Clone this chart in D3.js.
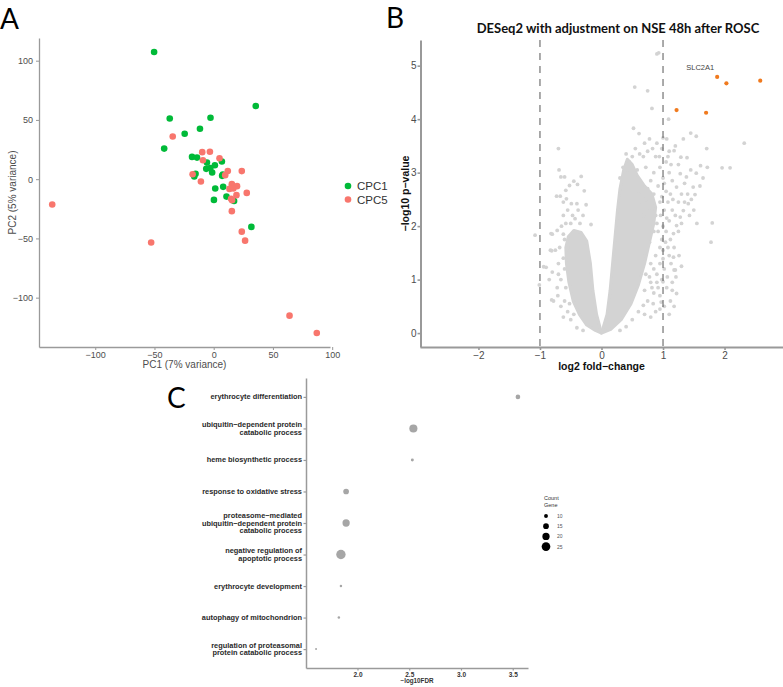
<!DOCTYPE html>
<html>
<head>
<meta charset="utf-8">
<script src="https://cdn.jsdelivr.net/npm/d3@7"></script>
<style>
  body { margin: 0; background: #fff; }
  svg { display: block; }
</style>
</head>
<body>
<svg id="fig" width="783" height="687"></svg>
<script>
// ---- panel A : PCA ----
const cpc1 = [
  [-50.3,107.3],[35.5,61.7],[-37.1,51.2],[-2.7,51.8],[-11.6,42.5],[-24.5,38.3],[-41.8,25.8],
  [-18.3,18.8],[-14.1,18.2],[-5.7,14.0],[1.0,11.8],[6.9,14.9],[-6.3,8.7],[-2.9,9.3],[-1.3,5.6],
  [-15.3,4.5],[-16.4,2.2],[7.7,3.9],[7.1,2.8],[1.3,-7.9],[8.0,-6.5],[10.8,-14.7],[0.2,-17.5],
  [17.2,-18.4],[31.8,-40.3]
];
const cpc5 = [
  [-136.3,-21.4],[-52.8,-53.5],[-34.6,36.0],[-9.7,22.8],[-3.2,23.1],[-9.1,16.0],[4.9,17.7],
  [-17.8,4.2],[-10.8,-2.0],[11.9,6.8],[9.7,3.4],[23.7,6.8],[15.3,-4.2],[19.7,-5.9],[13.3,-8.2],
  [16.6,-7.9],[27.9,-11.6],[19.2,-13.5],[14.7,-16.6],[15.5,-17.7],[15.3,-27.0],[23.7,-44.3],
  [26.5,-51.9],[87.0,-129.8],[64.0,-115.2]
];
const pcaTicks = [-100, -50, 0, 50, 100];
const groups = ["CPC1", "CPC5"];
const groupColors = ["#00BA38", "#F8766D"];

// ---- panel B : volcano ----
const volcanoTitle = "DESeq2 with adjustment on NSE 48h after ROSC";
const fcTicks = [-2, -1, 0, 1, 2];
const pTicks = [0, 1, 2, 3, 4, 5];
const fcCutoff = [-1, 1];
// dense cores of the V (outline)
const leftCore = [[0,0],[-0.1,0.05],[-0.24,0.15],[-0.36,0.35],[-0.46,0.6],[-0.53,0.95],[-0.57,1.3],
  [-0.58,1.6],[-0.54,1.8],[-0.45,1.92],[-0.33,1.88],[-0.24,1.72],[-0.18,1.3],[-0.14,0.8],[-0.08,0.35]];
const rightCore = [[0,0],[0.09,0.35],[0.14,0.8],[0.18,1.3],[0.22,1.8],[0.26,2.3],[0.3,2.7],[0.36,3.05],
  [0.42,3.25],[0.5,3.15],[0.58,2.95],[0.7,2.75],[0.82,2.6],[0.88,2.35],[0.85,2.05],[0.78,1.7],
  [0.7,1.3],[0.6,0.9],[0.48,0.55],[0.32,0.25],[0.15,0.07]];
const genesGray = [
  [0.90,5.22],[0.93,5.24],[0.54,4.60],[0.75,4.53],[0.82,4.20],[1.09,4.0],[0.52,3.83],[0.61,3.73],
  [0.78,3.63],[1.06,3.63],[1.18,3.41],[1.33,3.63],[1.45,3.74],[1.54,3.68],[1.71,3.45],[2.32,3.55],
  [1.96,3.09],[2.09,3.09],[1.80,2.06],[1.78,1.70],[1.54,2.99],[1.61,3.13],[1.29,3.29],[1.39,3.28],
  [1.49,2.73],[1.52,2.59],[1.38,2.92],[1.28,2.98],[1.22,2.73],[1.41,2.42],[1.33,2.29],[1.28,2.17],
  [1.22,2.01],[1.17,1.86],[1.18,1.18],[1.21,1.05],[1.22,0.74],[1.0,1.39],[1.17,1.42],[1.20,1.18],
  [1.0,0.96],[0.97,0.58],[0.84,0.55],[0.68,0.52],
  [1.05,3.2],[1.1,3.0],[1.0,2.9],[0.95,3.1],[0.88,3.3],[0.85,3.0],[0.8,2.85],[0.72,3.1],[0.68,3.3],
  [0.62,3.35],[0.55,3.45],[0.5,3.3],[0.45,3.2],[1.12,2.6],[1.08,2.45],[1.02,2.3],[1.15,2.3],[1.1,2.1],
  [1.05,1.9],[1.0,2.0],[0.98,1.75],[1.08,1.6],[1.12,1.75],[1.0,1.55],[0.95,1.3],[1.02,1.2],[0.9,1.1],
  [0.92,0.85],[0.85,0.75],[0.8,0.95],[0.75,0.6],[0.7,0.8],[1.3,2.6],[1.25,2.45],[1.35,2.8],[1.45,3.05],
  [1.25,3.15],[1.15,2.85],[1.2,3.5],[1.1,3.4],[0.98,3.45],[0.9,3.55],[1.13,1.3],[1.06,0.85],[1.15,0.95],
  [1.12,0.6],[0.95,0.45],
  [0.3,2.9],[0.35,3.1],[0.4,3.35],[0.42,3.0],[0.5,2.9],[0.58,3.05],[0.65,2.75],[0.75,2.7],[0.6,2.6],
  [0.85,2.6],[0.92,2.75],[0.7,1.5],[0.78,1.7],[0.85,1.9],[0.8,1.3],[0.72,1.1],[0.6,0.4],[0.5,0.25],
  [0.4,0.12],[0.3,0.05],[0.88,2.2],[0.95,2.45],
  [0.62,2.4],[0.68,2.2],[0.72,2.5],[0.78,2.35],[0.9,2.05],[0.92,1.9],[0.95,1.6],[0.88,1.45],[0.85,1.2],
  [0.9,0.95],[0.82,0.85],[0.78,1.05],[1.05,2.65],[1.02,2.8],[0.98,2.55],[0.96,2.2],[1.06,2.15],[1.04,1.7],
  [1.1,1.45],[1.07,1.05],[0.98,1.0],[1.16,2.5],[1.2,2.2],[1.18,1.6],[1.25,1.9],[1.3,2.05],[1.26,1.45],
  [1.3,1.25],[1.35,2.45],[1.4,2.6],[1.46,2.5],[1.43,2.2],[1.5,2.3],[1.55,2.05],[1.6,2.75],[1.65,2.9],
  [1.72,3.1],[1.13,3.15],[1.08,3.3],[0.94,3.3],[0.83,3.45],[0.75,3.4],[0.7,3.55],[1.0,3.65],[0.95,0.7],
  [1.02,0.5],[0.88,0.4],[0.8,0.3],[0.7,0.35],[1.1,0.35],[1.18,0.5],[1.15,0.8],
  [-0.70,3.45],[-0.69,3.05],[-0.66,2.92],[-0.60,2.92],[-0.67,2.56],[-0.73,2.56],[-0.58,2.67],
  [-0.52,2.76],[-0.45,2.84],[-0.33,2.93],[-0.39,2.78],[-0.57,2.51],[-0.49,2.42],[-0.40,2.42],
  [-0.28,2.66],[-0.17,2.03],[-0.43,2.14],[-0.35,2.05],[-1.08,1.83],[-0.90,1.23],[-0.82,1.86],
  [-0.72,1.92],[-0.80,1.85],[-0.81,1.54],[-0.83,1.55],[-0.94,1.24],[-1.01,0.90],[-0.80,1.14],
  [-0.81,0.62],[-0.71,0.70],[-0.62,2.2],[-0.55,2.3],[-0.65,2.0],[-0.6,1.75],[-0.68,1.6],[-0.62,1.4],
  [-0.7,1.3],[-0.66,1.0],[-0.72,0.85],[-0.6,0.6],[-0.55,0.4],[-0.62,0.3],[-0.5,0.25],[-0.4,0.1],[-0.3,0.05],
  [-0.62,1.85],[-0.58,2.05],[-0.5,2.05],[-0.47,2.2],[-0.55,1.6],[-0.6,1.2],[-0.58,0.85],[-0.52,0.55],
  [-0.45,0.35],[-0.75,1.55],[-0.7,1.1],[-0.78,0.6],[-0.85,1.0],[-0.66,0.5],[-0.38,2.3],[-0.3,2.2],
  [-0.25,2.4],[-0.62,2.45]
];
const genesSig = [[1.88,4.79],[2.03,4.67],[2.58,4.72],[1.22,4.17],[1.70,4.12]];
const sigLabel = {name: "SLC2A1", fc: 1.88, p: 4.79};

// ---- panel C : GO enrichment ----
const goTerms = [
  "erythrocyte differentiation",
  "ubiquitin\u2212dependent protein\ncatabolic process",
  "heme biosynthetic process",
  "response to oxidative stress",
  "proteasome\u2212mediated\nubiquitin\u2212dependent protein\ncatabolic process",
  "negative regulation of\napoptotic process",
  "erythrocyte development",
  "autophagy of mitochondrion",
  "regulation of proteasomal\nprotein catabolic process"
];
const goFDR = [3.55, 2.54, 2.53, 1.89, 1.89, 1.84, 1.84, 1.82, 1.60];
const goCount = [12, 23, 8, 15, 20, 28, 7, 7, 6];
const countBreaks = [10, 15, 20, 25];
const fdrTicks = [2.0, 2.5, 3.0, 3.5];

const ARIAL = "Liberation Sans, Arial, sans-serif";
const HUMAN = "Lato, 'Open Sans', sans-serif";

const svg = d3.select("#fig");
svg.append("rect").attr("width", 783).attr("height", 687).attr("fill", "#fff");

function panelLetter(t, x, y) {
  svg.append("text").attr("x", x).attr("y", y).text(t)
    .attr("font-family", HUMAN).attr("font-size", 28).attr("fill", "#000");
}
function styleAxis(g, col, w, fs, fcol) {
  g.attr("font-family", ARIAL);
  g.select(".domain").attr("stroke", col).attr("stroke-width", w);
  g.selectAll(".tick line").attr("stroke", col).attr("stroke-width", w * 0.8);
  g.selectAll(".tick text").attr("font-size", fs).attr("fill", fcol).attr("font-family", ARIAL);
}
function pad(ext, f) { const d = (ext[1] - ext[0]) * f; return [ext[0] - d, ext[1] + d]; }
function txt(g, s, x, y, size, opts = {}) {
  return g.append("text").attr("x", x).attr("y", y).attr("font-size", size)
    .attr("font-family", opts.family || ARIAL).attr("font-weight", opts.weight || "normal")
    .attr("text-anchor", opts.anchor || "start").attr("fill", opts.fill || "#333").text(s);
}

// ================= A =================
panelLetter("A", 0, 29);
const allPca = cpc1.concat(cpc5);
const xA = d3.scaleLinear().domain(pad(d3.extent(allPca, d => d[0]), 0.05)).range([39, 330]);
const yA = d3.scaleLinear().domain(pad(d3.extent(allPca, d => d[1]), 0.05)).range([347, 38]);
const gA = svg.append("g");
const axA_y = gA.append("g").attr("transform", "translate(39,0)")
  .call(d3.axisLeft(yA).tickValues(pcaTicks).tickSize(3).tickSizeOuter(0).tickPadding(3));
styleAxis(axA_y, "#9a9a9a", 1.3, 9, "#4d4d4d");
const axA_x = gA.append("g").attr("transform", "translate(0,347)")
  .call(d3.axisBottom(xA).tickValues(pcaTicks).tickSize(3).tickSizeOuter(0).tickPadding(2));
styleAxis(axA_x, "#9a9a9a", 1.3, 9, "#4d4d4d");
txt(gA, "PC1 (7% variance)", d3.mean(xA.range()), 368, 10, {anchor: "middle", fill: "#4d4d4d"});
txt(gA, "PC2 (5% variance)", 0, 0, 10, {anchor: "middle", fill: "#4d4d4d"})
  .attr("transform", `translate(16,${d3.mean(yA.range())}) rotate(-90)`);
[cpc1, cpc5].forEach((set, i) => {
  gA.append("g").selectAll("circle").data(set).join("circle")
    .attr("cx", d => xA(d[0])).attr("cy", d => yA(d[1])).attr("r", 3.3)
    .attr("fill", groupColors[i]);
});
const legA = gA.append("g").attr("transform", "translate(348,186)");
groups.forEach((g, i) => {
  legA.append("circle").attr("cx", 0).attr("cy", i * 13.5).attr("r", 3.3).attr("fill", groupColors[i]);
  txt(legA, g, 9, i * 13.5 + 4, 11.5, {fill: "#333"});
});

// ================= B =================
panelLetter("B", 386, 28);
const xB = d3.scaleLinear().domain([-2.95, 2.95]).range([420, 783]);
const yB = d3.scaleLinear().domain([-0.26, 5.48]).range([347, 40]);
const gB = svg.append("g");
txt(gB, volcanoTitle, 618, 33, 13, {family: HUMAN, weight: "bold", anchor: "middle", fill: "#111"});

const coreLine = d3.line().x(d => xB(d[0])).y(d => yB(d[1])).curve(d3.curveLinearClosed);
[leftCore, rightCore].forEach(c => {
  gB.append("path").attr("d", coreLine(c)).attr("fill", "#d3d3d3")
    .attr("stroke", "#d3d3d3").attr("stroke-width", 3).attr("stroke-linejoin", "round");
});
gB.append("g").selectAll("circle").data(genesGray).join("circle")
  .attr("cx", d => xB(d[0])).attr("cy", d => yB(d[1])).attr("r", 1.9).attr("fill", "#d3d3d3");
gB.append("g").selectAll("line").data(fcCutoff).join("line")
  .attr("x1", d => xB(d)).attr("x2", d => xB(d)).attr("y1", 40).attr("y2", 347)
  .attr("stroke", "#555").attr("stroke-width", 1).attr("stroke-dasharray", "7,6");
gB.append("g").selectAll("circle").data(genesSig).join("circle")
  .attr("cx", d => xB(d[0])).attr("cy", d => yB(d[1])).attr("r", 2.1).attr("fill", "#F07A1E");
txt(gB, sigLabel.name, xB(sigLabel.fc) - 3, yB(sigLabel.p) - 7, 7.5, {anchor: "end", fill: "#444"});

const axB_y = gB.append("g").attr("transform", "translate(420.5,0)")
  .call(d3.axisLeft(yB).tickValues(pTicks).tickSize(3).tickSizeOuter(0).tickPadding(1).tickFormat(d3.format("d")));
styleAxis(axB_y, "#999", 2, 10, "#4d4d4d");
const axB_x = gB.append("g").attr("transform", "translate(0,347)")
  .call(d3.axisBottom(xB).tickValues(fcTicks).tickSize(3).tickSizeOuter(0).tickPadding(2).tickFormat(d3.format("d")));
styleAxis(axB_x, "#999", 2, 10, "#4d4d4d");
txt(gB, "log2 fold\u2212change", xB(0), 370, 10.5, {anchor: "middle", weight: "bold", fill: "#111"});
txt(gB, "\u2212log10 p\u2212value", 0, 0, 10.5, {anchor: "middle", weight: "bold", fill: "#111"})
  .attr("transform", `translate(409,${d3.mean(yB.range())}) rotate(-90)`);

// ================= C =================
panelLetter("C", 167, 408);
const xC = d3.scaleLinear().domain(pad(d3.extent(goFDR), 0.05)).range([306, 528]);
const yC = d3.scalePoint().domain(goTerms).range([378, 668]).padding(0.6);
const rC = d3.scalePow().exponent(0.5).domain([6, 28]).range([1, 4.7]);
const gC = svg.append("g");
const axC_y = gC.append("g").attr("transform", "translate(306,0)")
  .call(d3.axisLeft(yC).tickSize(2.5).tickSizeOuter(0).tickFormat(""));
styleAxis(axC_y, "#9a9a9a", 1.5, 6, "#333");
const axC_x = gC.append("g").attr("transform", "translate(0,668)")
  .call(d3.axisBottom(xC).tickValues(fdrTicks).tickSize(2.5).tickSizeOuter(0).tickPadding(1.5).tickFormat(d3.format(".1f")));
styleAxis(axC_x, "#9a9a9a", 1.5, 6.5, "#333");
axC_x.selectAll(".tick text").attr("font-weight", "bold");
txt(gC, "\u2212log10FDR", d3.mean(xC.range()), 683, 6.3, {anchor: "middle", weight: "bold", fill: "#333"});

goTerms.forEach(t => {
  const lines = t.split("\n");
  const lh = 7.6;
  const y0 = yC(t) - (lines.length - 1) * lh / 2 + 2.5;
  const tx = txt(gC, "", 302, y0, 7.4, {anchor: "end", weight: "bold", fill: "#2a2a2a"});
  lines.forEach((l, i) => tx.append("tspan").attr("x", 302).attr("y", y0 + i * lh).text(l));
});
gC.append("g").selectAll("circle").data(goTerms).join("circle")
  .attr("cx", (d, i) => xC(goFDR[i])).attr("cy", d => yC(d)).attr("r", (d, i) => rC(goCount[i]))
  .attr("fill", "#a6a6a6");

const legC = gC.append("g").attr("transform", "translate(545,0)");
txt(legC, "Count", -1, 500, 5.5);
txt(legC, "Gene", -1, 506.5, 5.5);
countBreaks.forEach((c, i) => {
  legC.append("circle").attr("cx", 1).attr("cy", 516 + i * 10.2).attr("r", rC(c)).attr("fill", "#000");
  txt(legC, c, 12, 518 + i * 10.2, 5, {fill: "#555"});
});
</script>
</body>
</html>
